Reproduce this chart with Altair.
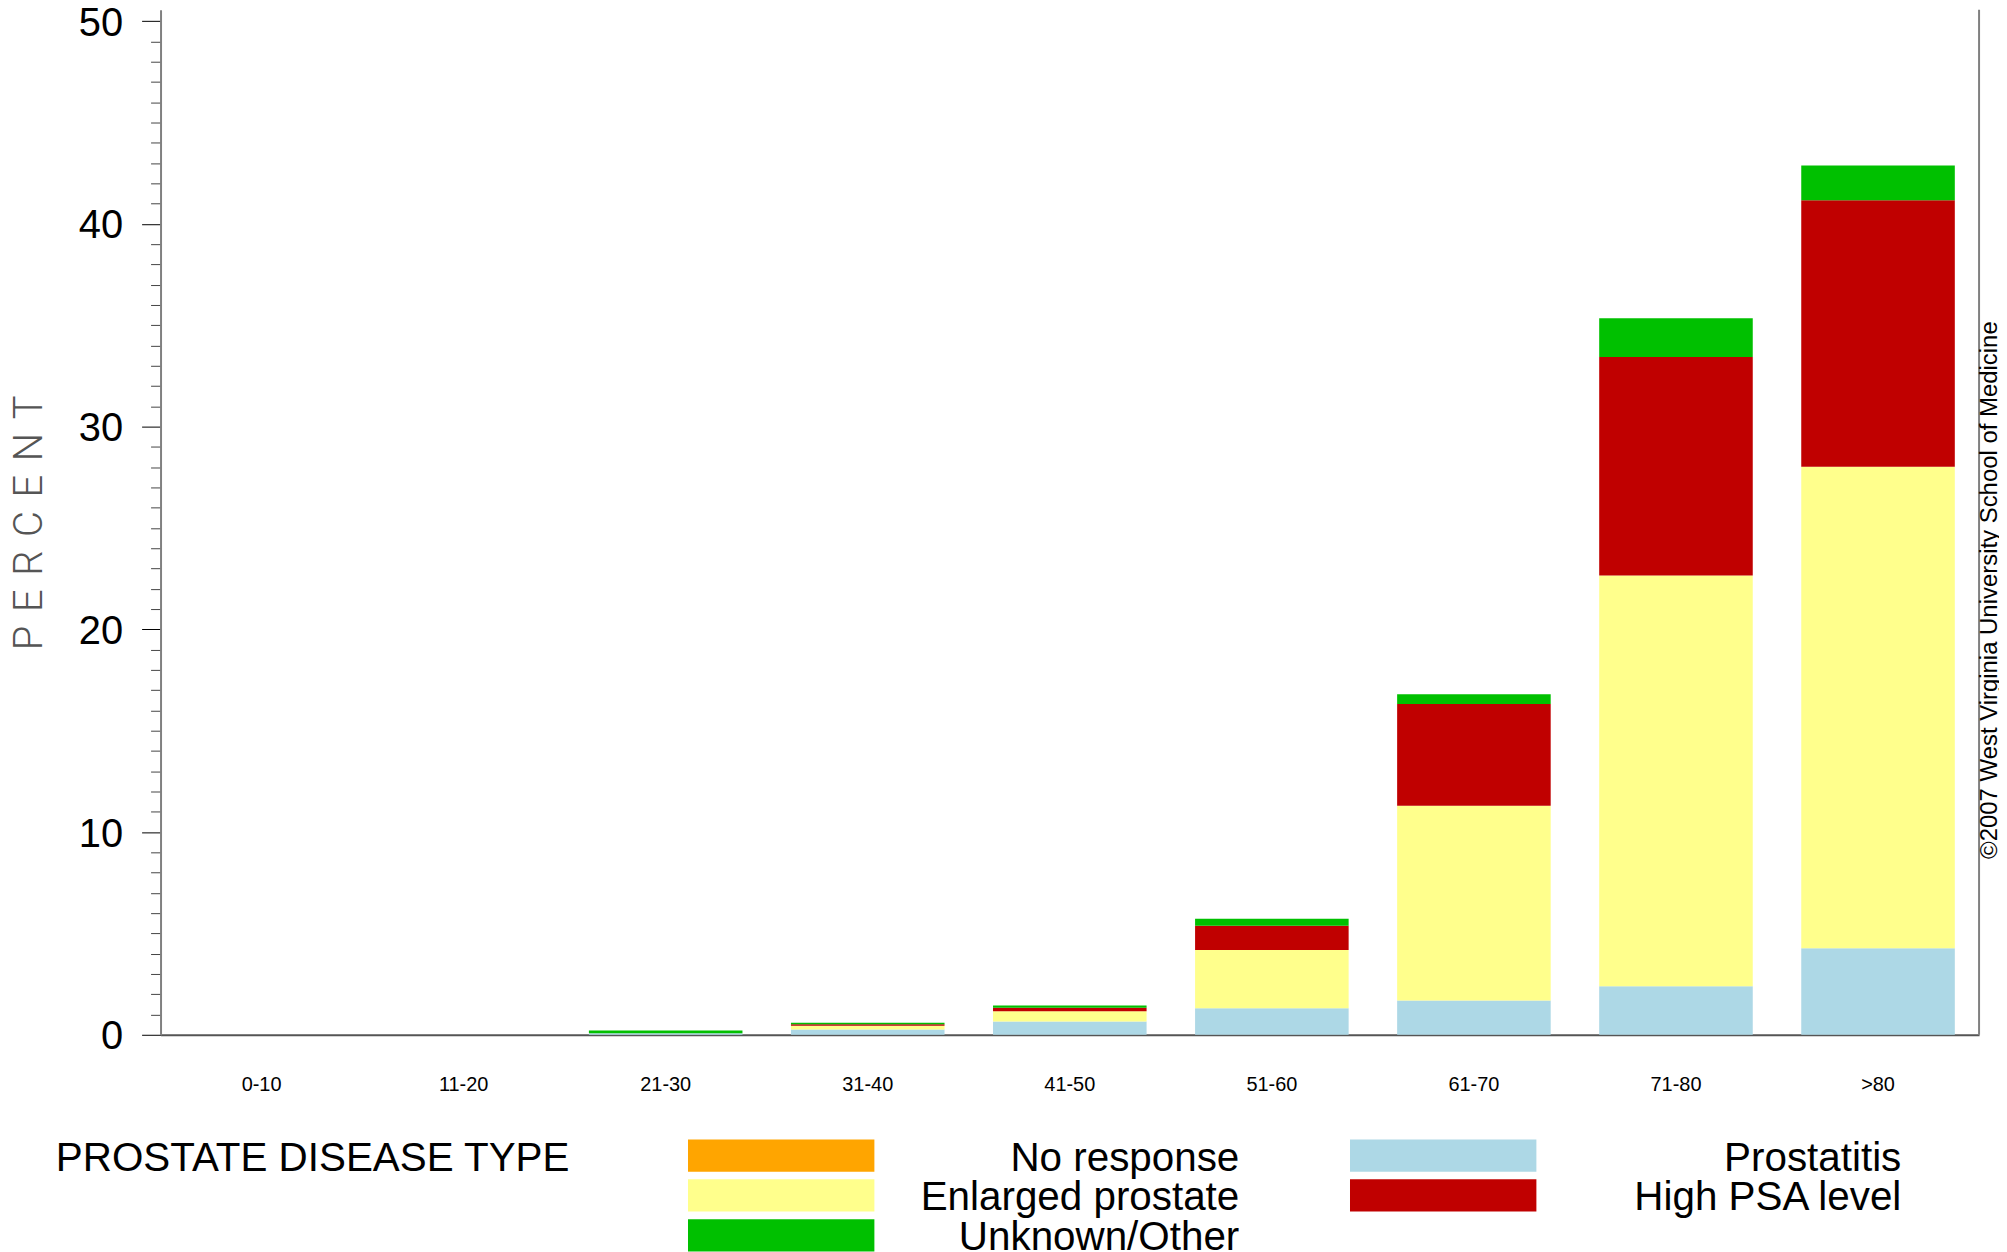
import altair as alt
import pandas as pd

# ---- data ----
ages = ["0-10", "11-20", "21-30", "31-40", "41-50", "51-60", "61-70", "71-80", ">80"]
prostatitis = [0, 0, 0.08, 0.26, 0.65, 1.31, 1.69, 2.40, 4.27]
enlarged = [0, 0, 0, 0.18, 0.51, 2.87, 9.61, 20.25, 23.75]
high_psa = [0, 0, 0, 0.08, 0.17, 1.20, 5.02, 10.78, 13.14]
unknown = [0, 0, 0.13, 0.07, 0.11, 0.34, 0.48, 1.92, 1.72]
no_response = [0, 0, 0, 0, 0, 0, 0, 0, 0]

legend_order = ["No response", "Prostatitis", "Enlarged prostate", "High PSA level", "Unknown/Other"]
legend_colors = ["#FFA500", "#ADD8E6", "#FFFF8C", "#C00000", "#00C000"]
stack_order = ["Prostatitis", "Enlarged prostate", "High PSA level", "Unknown/Other", "No response"]
y_ticks = list(range(0, 51))
copyright_text = ["©2007 West Virginia University School of Medicine"]

series = {
    "Prostatitis": prostatitis,
    "Enlarged prostate": enlarged,
    "High PSA level": high_psa,
    "Unknown/Other": unknown,
    "No response": no_response,
}
rows = []
for name, vals in series.items():
    for age, v in zip(ages, vals):
        rows.append({"age": age, "type": name, "pct": v, "order": stack_order.index(name)})
df = pd.DataFrame(rows)

FONT = "Liberation Sans"
W, H = 1824, 1028

bars = alt.Chart(df).mark_bar(strokeWidth=0).encode(
    x=alt.X(
        "age:N", sort=ages,
        scale=alt.Scale(paddingInner=0.24, paddingOuter=0.12),
        axis=alt.Axis(
            title=None, labelAngle=0, labelFont=FONT, labelFontSize=20,
            labelColor="black", labelPadding=40, ticks=False, tickSize=0,
            domainColor="#555555", domainWidth=2,
        ),
    ),
    y=alt.Y(
        "pct:Q", stack="zero",
        scale=alt.Scale(domain=[0, 50.556], nice=False),
        axis=alt.Axis(
            title="P\u2004E\u2004R\u2004C\u2004E\u2004N\u2004T", values=y_ticks, format="d",
            labelExpr="datum.value % 10 === 0 ? datum.label : ''",
            labelFont=FONT, labelFontSize=40, labelColor="black",
            labelPadding=19, labelOffset=2, labelOverlap=False, labelFlush=False,
            tickSize={"condition": {"test": "datum.value % 10 === 0", "value": 19}, "value": 10},
            tickColor={"condition": {"test": "datum.value % 10 === 0", "value": "#000000"}, "value": "#444444"},
            tickWidth=1,
            domainColor="#808080", domainWidth=2, grid=False,
            titleFont="Roboto", titleFontWeight=300, titleFontSize=40,
            titleColor="#555555", titlePadding=29,
        ),
    ),
    color=alt.Color(
        "type:N",
        scale=alt.Scale(domain=legend_order, range=legend_colors),
        legend=alt.Legend(
            orient="none", legendX=-105, legendY=1133, direction="horizontal",
            columns=2, padding=0, clipHeight=38.4,
            title="PROSTATE DISEASE TYPE", titleOrient="left",
            titleAnchor="start", titleBaseline="top",
            titleFont=FONT, titleFontSize=40.5, titleFontWeight="normal",
            titleColor="black", titlePadding=117, titleLimit=2000,
            labelFont=FONT, labelFontSize=40.5, labelColor="black",
            labelAlign="right", labelOffset=366, labelLimit=2000,
            symbolType="M-1,-0.242H1V0.14H-1Z", symbolSize=34969,
            symbolStrokeWidth=0, symbolOpacity=1,
            columnPadding=111, rowPadding=-6.0, gridAlign="each",
        ),
    ),
    order=alt.Order("order:Q", sort="ascending"),
)

frame = alt.Chart(pd.DataFrame({"edge": ["right"]})).mark_rule(
    color="#808080", strokeWidth=2
).encode(x=alt.value(W), y=alt.value(0), y2=alt.value(H))

credit = alt.Chart(pd.DataFrame({"text": copyright_text})).mark_text(
    angle=270, align="center", baseline="alphabetic",
    font=FONT, fontSize=24, color="black",
).encode(text="text:N", x=alt.value(W + 18), y=alt.value(582))

chart = alt.layer(bars, frame, credit).properties(
    width=W, height=H,
    background="white",
    autosize=alt.AutoSizeParams(type="none"),
    padding={"left": 153, "top": 0, "right": 20, "bottom": 216},
).configure_view(stroke="transparent", strokeWidth=0)

chart.save("out.html", embed_options={"renderer": "svg", "actions": False})
